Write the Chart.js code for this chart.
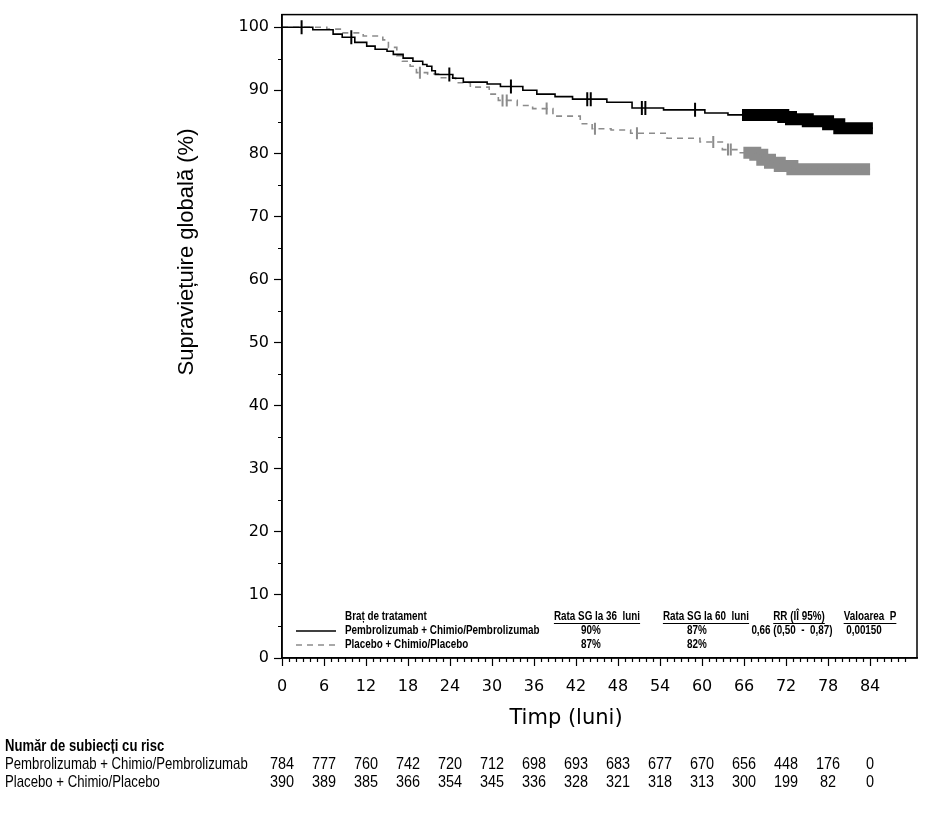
<!DOCTYPE html>
<html lang="ro">
<head>
<meta charset="UTF-8">
<title>Supraviețuire globală</title>
<script src="https://cdn.jsdelivr.net/npm/chart.js"></script>
<style>
  body { margin: 0; background: #fff; }
  canvas { display: block; }
</style>
</head>
<body>
<canvas id="kmChart" width="926" height="820"></canvas>
<script>
// Kaplan-Meier steps: time (months), survival (%)
const pembroTime = [0, 4.4, 7.3, 8.6, 10.4, 12.1, 13.3, 15.0, 15.9, 17.3, 18.7, 20.1, 20.7, 21.4, 21.9, 24.4, 25.9, 29.3, 31.2, 34.4, 36.4, 39.0, 41.5, 46.4, 50.0, 54.5, 60.4, 63.7, 71.6, 72.7, 75.1, 78.0, 79.6, 84.4];
const pembroSurv = [100, 99.6, 98.9, 98.4, 97.6, 97.0, 96.5, 96.2, 95.7, 95.1, 94.6, 94.1, 93.8, 93.1, 92.5, 91.9, 91.3, 91.0, 90.6, 90.0, 89.4, 89.0, 88.6, 88.1, 87.2, 86.9, 86.4, 86.1, 85.75, 85.4, 85.1, 84.6, 84.0, 84.0];
const pembroCensorTime = [2.8, 9.9, 23.9, 32.7, 43.6, 44.1, 51.4, 51.9, 59.0];
const pembroCensorSurv = [100, 98.4, 92.5, 90.6, 88.6, 88.6, 87.2, 87.2, 86.9];
// tail where the censor ticks merge into a solid block
const pembroBandTime = [65.7, 71.6, 72.7, 75.1, 78.0, 79.6, 84.4];
const pembroBandSurv = [86.1, 85.75, 85.4, 85.1, 84.6, 84.0, 84.0];

const placeboTime = [0, 6.4, 8.5, 11.6, 14.4, 15.2, 16.4, 17.2, 18.3, 19.2, 20.8, 22.6, 24.8, 26.9, 29.6, 30.9, 33.6, 35.8, 38.7, 42.6, 44.3, 47.0, 49.8, 55.0, 59.7, 62.9, 65.2, 67.6, 68.6, 69.7, 71.1, 72.9, 84.0];
const placeboSurv = [100, 99.7, 99.1, 98.6, 98.0, 96.8, 95.5, 94.6, 93.8, 92.8, 92.6, 92.0, 91.2, 90.5, 89.4, 88.4, 87.6, 87.1, 85.9, 84.7, 83.9, 83.7, 83.2, 82.4, 81.8, 80.6, 80.1, 79.8, 79.0, 78.5, 78.0, 77.5, 77.5];
const placeboCensorTime = [19.7, 31.5, 32.1, 37.8, 44.7, 50.7, 61.6, 63.7, 64.1];
const placeboCensorSurv = [92.8, 88.4, 88.4, 87.1, 83.9, 83.2, 81.8, 80.6, 80.6];
const placeboBandTime = [65.9, 67.6, 68.6, 69.7, 71.1, 72.9, 84.0];
const placeboBandSurv = [80.1, 79.8, 79.0, 78.5, 78.0, 77.5, 77.5];

const xTicks = [0, 6, 12, 18, 24, 30, 36, 42, 48, 54, 60, 66, 72, 78, 84];
const yTicks = [0, 10, 20, 30, 40, 50, 60, 70, 80, 90, 100];

const armNames = ['Pembrolizumab + Chimio/Pembrolizumab', 'Placebo + Chimio/Placebo'];
const pembroAtRisk = [784, 777, 760, 742, 720, 712, 698, 693, 683, 677, 670, 656, 448, 176, 0];
const placeboAtRisk = [390, 389, 385, 366, 354, 345, 336, 328, 321, 318, 313, 300, 199, 82, 0];
const rate36 = ['90%', '87%'];
const rate60 = ['87%', '82%'];
const hrText = '0,66 (0,50  -  0,87)';
const pText = '0,00150';

const GRAY = '#8c8c8c';

function pts(t, s) {
  return t.map((x, i) => ({ x: x, y: s[i] }));
}

// Arial Narrow look-alike: squeeze Liberation Sans horizontally
function narrowText(ctx, text, x, y, size, bold, align, squeeze) {
  const k = squeeze || 0.82;
  ctx.save();
  ctx.font = (bold ? 'bold ' : '') + size + 'px "Liberation Sans", Arial, sans-serif';
  ctx.textBaseline = 'middle';
  ctx.textAlign = 'left';
  const w = ctx.measureText(text).width * k;
  let left = x;
  if (align === 'center') left = x - w / 2;
  else if (align === 'right') left = x - w;
  ctx.translate(left, y);
  ctx.scale(k, 1);
  ctx.fillText(text, 0, 0);
  ctx.restore();
  return { left: left, width: w };
}

const extras = {
  id: 'extras',
  afterDraw(chart) {
    const ctx = chart.ctx;
    const a = chart.chartArea;
    const xs = chart.scales.x;
    const ys = chart.scales.y;
    ctx.save();
    ctx.fillStyle = '#000';
    ctx.strokeStyle = '#000';

    // frame
    ctx.lineWidth = 1.5;
    ctx.strokeRect(a.left, a.top, a.right - a.left, a.bottom - a.top);

    // minor ticks
    ctx.lineWidth = 1.2;
    ctx.beginPath();
    for (let m = 1; m <= 90; m++) {
      if (m % 6 === 0) continue;
      const px = Math.round(xs.getPixelForValue(m)) + 0.5;
      ctx.moveTo(px, a.bottom);
      ctx.lineTo(px, a.bottom + 4);
    }
    for (let v = 5; v < 100; v += 10) {
      const py = Math.round(ys.getPixelForValue(v)) + 0.5;
      ctx.moveTo(a.left - 4, py);
      ctx.lineTo(a.left, py);
    }
    ctx.stroke();

    // axis titles
    ctx.save();
    ctx.font = '22px "Liberation Sans", Arial, sans-serif';
    ctx.textAlign = 'center';
    ctx.textBaseline = 'middle';
    ctx.translate(187, 252);
    ctx.rotate(-Math.PI / 2);
    ctx.fillText('Supraviețuire globală (%)', 0, 0);
    ctx.restore();
    ctx.font = '21px "DejaVu Sans", sans-serif';
    ctx.textAlign = 'center';
    ctx.textBaseline = 'middle';
    ctx.fillText('Timp (luni)', 566, 719);

    // legend block inside the plot
    const lx = 345;
    const hy = 617, r1 = 631, r2 = 645;
    const heads = [
      ['Braț de tratament', lx, 'left'],
      ['Rata SG la 36  luni', 597, 'center'],
      ['Rata SG la 60  luni', 706, 'center'],
      ['RR (IÎ 95%)', 799, 'center'],
      ['Valoarea  P', 870, 'center']
    ];
    ctx.lineWidth = 1;
    heads.forEach((h, i) => {
      const r = narrowText(ctx, h[0], h[1], hy, 12.5, true, h[2], 0.79);
      if (i > 0) {
        ctx.beginPath();
        ctx.moveTo(r.left, hy + 6.5);
        ctx.lineTo(r.left + r.width, hy + 6.5);
        ctx.stroke();
      }
    });
    narrowText(ctx, armNames[0], lx, r1, 12.5, true, 'left', 0.79);
    narrowText(ctx, armNames[1], lx, r2, 12.5, true, 'left', 0.79);
    narrowText(ctx, rate36[0], 591, r1, 12.5, true, 'center', 0.79);
    narrowText(ctx, rate36[1], 591, r2, 12.5, true, 'center', 0.79);
    narrowText(ctx, rate60[0], 697, r1, 12.5, true, 'center', 0.79);
    narrowText(ctx, rate60[1], 697, r2, 12.5, true, 'center', 0.79);
    narrowText(ctx, hrText, 792, r1, 12.5, true, 'center', 0.79);
    narrowText(ctx, pText, 864, r1, 12.5, true, 'center', 0.79);

    ctx.lineWidth = 1.6;
    ctx.beginPath();
    ctx.moveTo(296, r1);
    ctx.lineTo(336, r1);
    ctx.stroke();
    ctx.strokeStyle = GRAY;
    ctx.setLineDash([6, 5]);
    ctx.beginPath();
    ctx.moveTo(296, r2);
    ctx.lineTo(336, r2);
    ctx.stroke();
    ctx.setLineDash([]);

    // number at risk table
    ctx.fillStyle = '#000';
    narrowText(ctx, 'Număr de subiecți cu risc', 5, 746, 17, true, 'left', 0.77);
    narrowText(ctx, armNames[0], 5, 764, 17, false, 'left', 0.775);
    narrowText(ctx, armNames[1], 5, 782, 17, false, 'left', 0.775);
    xTicks.forEach((t, i) => {
      const px = xs.getPixelForValue(t);
      narrowText(ctx, String(pembroAtRisk[i]), px, 764, 17, false, 'center', 0.85);
      narrowText(ctx, String(placeboAtRisk[i]), px, 782, 17, false, 'center', 0.85);
    });
    ctx.restore();
  }
};

new Chart(document.getElementById('kmChart'), {
  type: 'line',
  data: {
    datasets: [
      {
        label: armNames[0],
        data: pts(pembroTime, pembroSurv),
        borderColor: '#000',
        borderWidth: 1.6,
        stepped: 'before',
        pointRadius: 0
      },
      {
        label: 'pembro censored',
        data: pts(pembroCensorTime, pembroCensorSurv),
        showLine: false,
        pointStyle: 'line',
        rotation: 90,
        pointRadius: 7,
        borderColor: '#000',
        borderWidth: 2
      },
      {
        label: 'pembro censored (dense)',
        data: pts(pembroBandTime, pembroBandSurv),
        borderColor: '#000',
        borderWidth: 12,
        borderCapStyle: 'butt',
        borderJoinStyle: 'miter',
        stepped: 'before',
        pointRadius: 0
      },
      {
        label: armNames[1],
        data: pts(placeboTime, placeboSurv),
        borderColor: GRAY,
        borderWidth: 1.6,
        borderDash: [6, 5],
        stepped: 'before',
        pointRadius: 0
      },
      {
        label: 'placebo censored',
        data: pts(placeboCensorTime, placeboCensorSurv),
        showLine: false,
        pointStyle: 'line',
        rotation: 90,
        pointRadius: 6,
        borderColor: GRAY,
        borderWidth: 2
      },
      {
        label: 'placebo censored (dense)',
        data: pts(placeboBandTime, placeboBandSurv),
        borderColor: GRAY,
        borderWidth: 12,
        borderCapStyle: 'butt',
        borderJoinStyle: 'miter',
        stepped: 'before',
        pointRadius: 0
      }
    ]
  },
  options: {
    responsive: false,
    animation: false,
    devicePixelRatio: 1,
    layout: { padding: { top: 6, right: 9, left: 0, bottom: 0 } },
    plugins: {
      legend: { display: false },
      tooltip: { enabled: false }
    },
    scales: {
      x: {
        type: 'linear',
        min: 0,
        max: 90.7,
        afterBuildTicks: (s) => { s.ticks = xTicks.map(v => ({ value: v })); },
        afterFit: (s) => { s.height = 162; },
        border: { display: true, color: '#000', width: 1.5 },
        grid: { drawOnChartArea: false, tickLength: 8, tickColor: '#000', tickWidth: 1.2 },
        ticks: {
          autoSkip: false,
          maxRotation: 0,
          padding: 11,
          color: '#000',
          font: { family: '"DejaVu Sans", sans-serif', size: 16 }
        }
      },
      y: {
        min: 0,
        max: 102,
        afterBuildTicks: (s) => { s.ticks = yTicks.map(v => ({ value: v })); },
        afterFit: (s) => { s.width = 282; },
        border: { display: true, color: '#000', width: 1.5 },
        grid: { drawOnChartArea: false, tickLength: 8, tickColor: '#000', tickWidth: 1.2 },
        ticks: {
          padding: 5,
          color: '#000',
          font: { family: '"DejaVu Sans", sans-serif', size: 16 }
        }
      }
    }
  },
  plugins: [extras]
});
</script>
</body>
</html>
